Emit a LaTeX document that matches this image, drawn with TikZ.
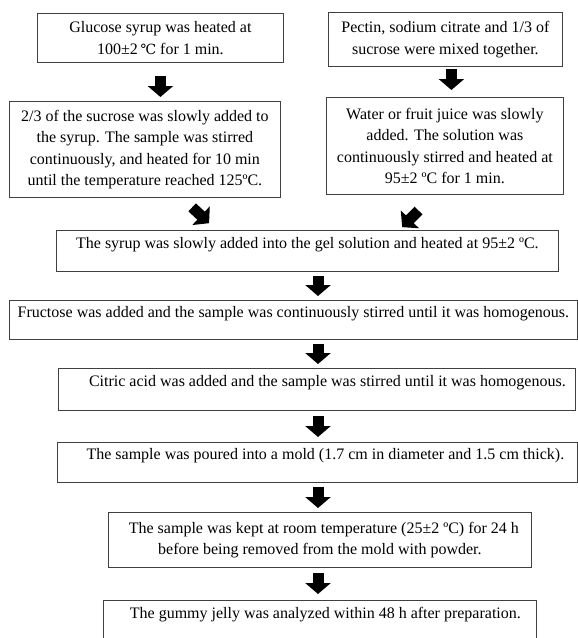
\documentclass[tikz,border=0pt]{standalone}
\usepackage{fontspec}
\setmainfont{Liberation Serif}
\newfontfamily\degfont{DejaVu Serif}
\usetikzlibrary{arrows.meta,calc}
\tikzset{
  stage/.style={draw=black!75, line width=0.8pt, align=center, anchor=north west,
    inner sep=0pt, font=\fontsize{16}{21.5}\selectfont},
  oneline/.style={stage, text height=8pt, text depth=13pt},
  blockarr/.style={line width=11pt, -{Triangle[width=25pt,length=11pt]},
    shorten <=4pt, shorten >=4pt}
}
\begin{document}
\begin{tikzpicture}[x=1pt,y=-1pt]
    \useasboundingbox (0,0) rectangle (578,638);
    \clip (0,0) rectangle (578,638);
    \node[stage, minimum width=246pt, minimum height=49pt] (glucose) at (37,13)
        {Glucose syrup was heated at\\100±2\,{\degfont\fontsize{14}{21}\selectfont ℃} for 1 min.};
    \node[stage, minimum width=234pt, minimum height=54pt] (pectin) at (328,12)
        {Pectin, sodium citrate and 1/3 of\\sucrose were mixed together.};
    \node[stage, minimum width=271pt, minimum height=96pt] (sucrose) at (9,101)
        {2/3 of the sucrose was slowly added to\\the syrup. The sample was stirred\\continuously, and heated for 10 min\\until the temperature reached 125ºC.};
    \node[stage, minimum width=237pt, minimum height=97pt] (water) at (326,97)
        {Water or fruit juice was slowly\\added. The solution was\\continuously stirred and heated at\\95±2 ºC for 1 min.};
    \node[oneline, minimum width=502pt, minimum height=41pt] (syrup) at (56,230)
        {The syrup was slowly added into the gel solution and heated at 95±2 ºC.};
    \node[oneline, minimum width=568pt, minimum height=39pt] (fructose) at (9,300)
        {Fructose was added and the sample was continuously stirred until it was homogenous.};
    \node[oneline, minimum width=517pt, minimum height=42pt] (citric) at (58,368)
        {\hspace*{21pt}Citric acid was added and the sample was stirred until it was homogenous.};
    \node[oneline, minimum width=520pt, minimum height=40pt] (mold) at (57,442)
        {\hspace*{16pt}The sample was poured into a mold (1.7 cm in diameter and 1.5 cm thick).};
    \node[stage, minimum width=423pt, minimum height=55pt] (room) at (108,512)
        {\hspace*{8pt}The sample was kept at room temperature (25±2 ºC) for 24 h\\before being removed from the mold with powder.};
    \node[oneline, minimum width=433pt, minimum height=41pt] (gummy) at (103,600)
        {\hspace*{11pt}The gummy jelly was analyzed within 48 h after preparation.};
    \coordinate (col) at (318,0);
    \draw[blockarr, shorten <=13pt] (glucose.south) -- (glucose.south |- sucrose.north);
    \draw[blockarr, shorten <=2pt, shorten >=7pt] ([xshift=6pt]pectin.south) -- ([xshift=6pt]pectin.south |- water.north);
    \draw[blockarr, shorten <=14pt, shorten >=10pt] ([xshift=37pt]sucrose.south) -- ([xshift=-91pt]syrup.north);
    \draw[blockarr, shorten <=22pt, shorten >=4pt] ([xshift=-11pt]water.south) -- ([xshift=92pt]syrup.north);
    \draw[blockarr] (syrup.south -| col) -- (fructose.north -| col);
    \draw[blockarr] (fructose.south -| col) -- (citric.north -| col);
    \draw[blockarr, shorten <=5pt, shorten >=5pt] (citric.south -| col) -- (mold.north -| col);
    \draw[blockarr] (mold.south -| col) -- (room.north -| col);
    \draw[blockarr, shorten <=5pt, shorten >=6pt] (room.south -| col) -- (gummy.north -| col);
\end{tikzpicture}
\end{document}
